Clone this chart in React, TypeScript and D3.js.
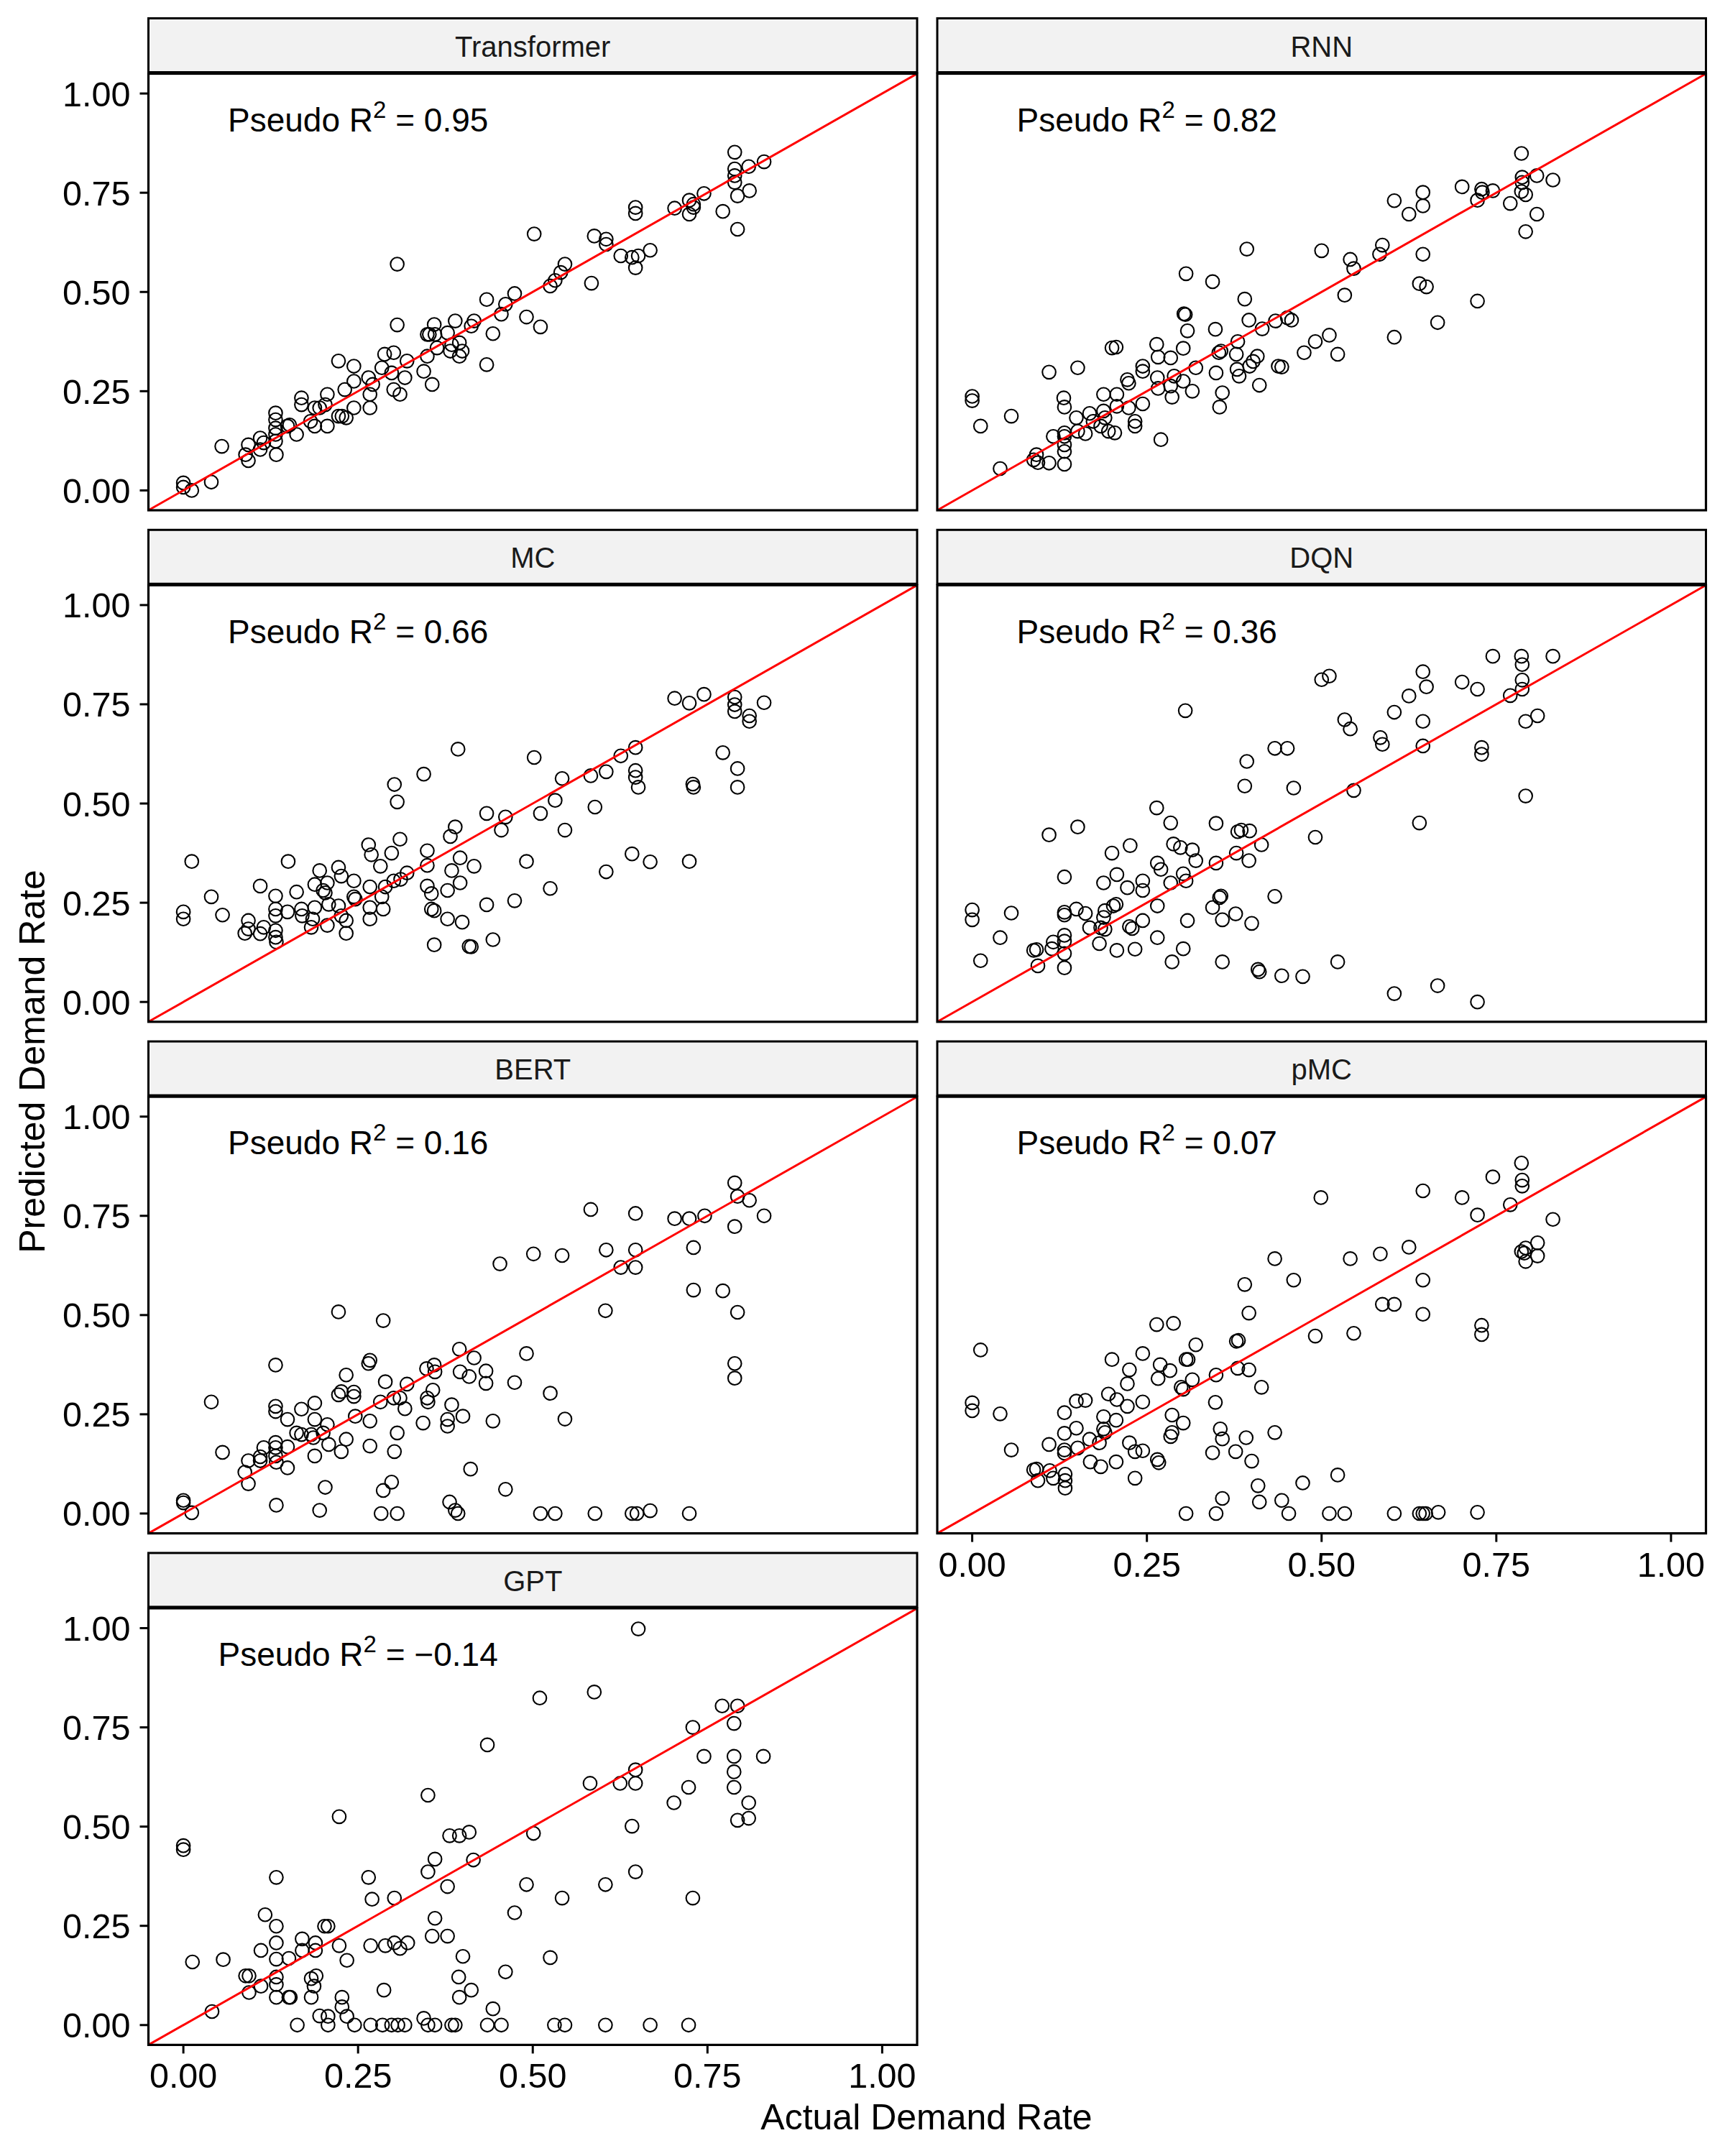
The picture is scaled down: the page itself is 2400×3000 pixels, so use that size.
import * as d3 from "d3";

type Pt = [number, number];

// facet order (row by row, two columns)
const models = ["Transformer", "RNN", "MC", "DQN", "BERT", "pMC", "GPT"];
const r2Labels = ["0.95", "0.82", "0.66", "0.36", "0.16", "0.07", "\u22120.14"];
const tickValues = [0, 0.25, 0.5, 0.75, 1];
const tickLabels = ["0.00", "0.25", "0.50", "0.75", "1.00"];

const transformerPts: Pt[] = [
  [0, 0.019], [0, 0.008], [0.012, 0], [0.04, 0.021], [0.055, 0.111], [0.089, 0.09], [0.093, 0.115], [0.093, 0.075],
  [0.11, 0.103], [0.11, 0.132], [0.115, 0.12], [0.132, 0.195], [0.132, 0.178], [0.132, 0.157], [0.132, 0.141],
  [0.132, 0.124], [0.133, 0.09], [0.149, 0.162], [0.152, 0.165], [0.162, 0.141], [0.169, 0.233], [0.169, 0.216],
  [0.182, 0.174], [0.188, 0.208], [0.188, 0.162], [0.195, 0.208], [0.203, 0.216], [0.206, 0.242], [0.206, 0.162],
  [0.222, 0.326], [0.222, 0.187], [0.227, 0.187], [0.231, 0.254], [0.233, 0.183], [0.244, 0.313], [0.244, 0.275],
  [0.244, 0.208], [0.265, 0.284], [0.267, 0.242], [0.267, 0.208], [0.271, 0.267], [0.284, 0.309], [0.288, 0.343],
  [0.298, 0.296], [0.301, 0.347], [0.301, 0.254], [0.306, 0.57], [0.306, 0.417], [0.31, 0.242], [0.317, 0.284],
  [0.32, 0.326], [0.344, 0.3], [0.349, 0.338], [0.349, 0.393], [0.352, 0.393], [0.356, 0.267], [0.359, 0.418],
  [0.36, 0.393], [0.363, 0.359], [0.378, 0.397], [0.382, 0.351], [0.384, 0.367], [0.389, 0.427], [0.395, 0.372],
  [0.395, 0.338], [0.399, 0.351], [0.412, 0.414], [0.416, 0.427], [0.434, 0.481], [0.434, 0.317], [0.443, 0.395],
  [0.455, 0.444], [0.461, 0.469], [0.474, 0.496], [0.491, 0.437], [0.511, 0.412], [0.502, 0.646], [0.525, 0.515],
  [0.532, 0.529], [0.54, 0.549], [0.546, 0.57], [0.584, 0.522], [0.588, 0.641], [0.605, 0.633], [0.605, 0.62],
  [0.626, 0.591], [0.642, 0.587], [0.647, 0.561], [0.647, 0.713], [0.647, 0.698], [0.651, 0.591], [0.668, 0.605],
  [0.703, 0.711], [0.724, 0.731], [0.724, 0.696], [0.73, 0.721], [0.73, 0.713], [0.745, 0.748], [0.772, 0.703],
  [0.789, 0.852], [0.789, 0.81], [0.789, 0.793], [0.789, 0.776], [0.793, 0.742], [0.793, 0.658], [0.809, 0.816],
  [0.81, 0.755], [0.831, 0.828],
];

const rnnPts: Pt[] = [
  [0, 0.237], [0, 0.226], [0.012, 0.162], [0.04, 0.055], [0.056, 0.187], [0.088, 0.077], [0.092, 0.09], [0.094, 0.07],
  [0.11, 0.069], [0.11, 0.298], [0.116, 0.136], [0.131, 0.233], [0.132, 0.21], [0.132, 0.145], [0.132, 0.115],
  [0.132, 0.098], [0.132, 0.066], [0.132, 0.136], [0.149, 0.183], [0.151, 0.309], [0.151, 0.149], [0.162, 0.143],
  [0.168, 0.194], [0.173, 0.174], [0.184, 0.162], [0.188, 0.2], [0.188, 0.242], [0.19, 0.183], [0.195, 0.149],
  [0.2, 0.359], [0.206, 0.361], [0.204, 0.145], [0.207, 0.242], [0.207, 0.212], [0.222, 0.279], [0.224, 0.27],
  [0.224, 0.208], [0.233, 0.174], [0.233, 0.162], [0.244, 0.313], [0.244, 0.3], [0.244, 0.218], [0.264, 0.368],
  [0.265, 0.284], [0.266, 0.336], [0.266, 0.257], [0.27, 0.128], [0.284, 0.334], [0.284, 0.263], [0.286, 0.235],
  [0.289, 0.288], [0.302, 0.358], [0.302, 0.275], [0.303, 0.445], [0.306, 0.546], [0.305, 0.443], [0.308, 0.402],
  [0.315, 0.25], [0.32, 0.309], [0.344, 0.526], [0.348, 0.406], [0.349, 0.296], [0.353, 0.347], [0.356, 0.351],
  [0.354, 0.21], [0.358, 0.246], [0.378, 0.343], [0.379, 0.305], [0.382, 0.288], [0.38, 0.375], [0.39, 0.482],
  [0.393, 0.608], [0.396, 0.429], [0.397, 0.313], [0.402, 0.325], [0.408, 0.338], [0.411, 0.265], [0.415, 0.407],
  [0.434, 0.427], [0.438, 0.313], [0.443, 0.311], [0.451, 0.435], [0.457, 0.429], [0.475, 0.347], [0.491, 0.375],
  [0.5, 0.604], [0.511, 0.391], [0.523, 0.343], [0.533, 0.492], [0.541, 0.582], [0.546, 0.559], [0.583, 0.595],
  [0.587, 0.618], [0.604, 0.73], [0.604, 0.386], [0.625, 0.696], [0.64, 0.521], [0.645, 0.751], [0.645, 0.717],
  [0.645, 0.595], [0.65, 0.513], [0.666, 0.423], [0.701, 0.765], [0.723, 0.731], [0.723, 0.477], [0.729, 0.759],
  [0.73, 0.751], [0.745, 0.755], [0.77, 0.723], [0.786, 0.849], [0.787, 0.789], [0.787, 0.776], [0.786, 0.753],
  [0.792, 0.745], [0.792, 0.652], [0.808, 0.696], [0.808, 0.793], [0.831, 0.782],
];

const mcPts: Pt[] = [
  [0, 0.227], [0, 0.209], [0.012, 0.354], [0.04, 0.265], [0.056, 0.219], [0.088, 0.173], [0.093, 0.205], [0.093, 0.184],
  [0.11, 0.292], [0.11, 0.172], [0.115, 0.188], [0.132, 0.267], [0.132, 0.234], [0.132, 0.217], [0.132, 0.18],
  [0.132, 0.163], [0.133, 0.151], [0.149, 0.227], [0.15, 0.354], [0.162, 0.277], [0.169, 0.234], [0.17, 0.217],
  [0.183, 0.188], [0.185, 0.209], [0.188, 0.296], [0.188, 0.238], [0.195, 0.331], [0.2, 0.281], [0.203, 0.275],
  [0.206, 0.3], [0.206, 0.193], [0.208, 0.246], [0.222, 0.339], [0.222, 0.242], [0.226, 0.317], [0.226, 0.217],
  [0.233, 0.205], [0.233, 0.173], [0.244, 0.305], [0.244, 0.265], [0.246, 0.259], [0.265, 0.396], [0.267, 0.29],
  [0.267, 0.238], [0.267, 0.209], [0.269, 0.371], [0.282, 0.342], [0.284, 0.265], [0.286, 0.234], [0.289, 0.29],
  [0.298, 0.375], [0.302, 0.548], [0.306, 0.504], [0.31, 0.41], [0.301, 0.305], [0.311, 0.309], [0.32, 0.325],
  [0.344, 0.574], [0.349, 0.381], [0.349, 0.344], [0.349, 0.292], [0.355, 0.273], [0.355, 0.234], [0.359, 0.23],
  [0.359, 0.144], [0.378, 0.281], [0.378, 0.209], [0.382, 0.417], [0.384, 0.331], [0.389, 0.441], [0.393, 0.637],
  [0.396, 0.363], [0.396, 0.3], [0.399, 0.201], [0.409, 0.14], [0.412, 0.139], [0.416, 0.342], [0.434, 0.475],
  [0.434, 0.245], [0.443, 0.157], [0.455, 0.433], [0.461, 0.466], [0.474, 0.255], [0.491, 0.354], [0.502, 0.616],
  [0.511, 0.475], [0.525, 0.286], [0.532, 0.508], [0.542, 0.563], [0.546, 0.433], [0.583, 0.57], [0.589, 0.491],
  [0.605, 0.58], [0.605, 0.328], [0.626, 0.62], [0.642, 0.373], [0.647, 0.641], [0.647, 0.583], [0.647, 0.566],
  [0.651, 0.541], [0.668, 0.353], [0.703, 0.765], [0.724, 0.753], [0.724, 0.354], [0.729, 0.549], [0.73, 0.541],
  [0.745, 0.775], [0.772, 0.628], [0.789, 0.768], [0.789, 0.749], [0.789, 0.732], [0.793, 0.588], [0.793, 0.541],
  [0.81, 0.721], [0.81, 0.707], [0.831, 0.754],
];

const dqnPts: Pt[] = [
  [0, 0.232], [0, 0.207], [0.012, 0.104], [0.04, 0.162], [0.056, 0.224], [0.088, 0.13], [0.092, 0.132], [0.094, 0.091],
  [0.11, 0.421], [0.114, 0.134], [0.116, 0.151], [0.132, 0.315], [0.132, 0.226], [0.132, 0.219], [0.132, 0.168],
  [0.132, 0.153], [0.132, 0.122], [0.132, 0.086], [0.149, 0.234], [0.151, 0.441], [0.162, 0.223], [0.168, 0.187],
  [0.182, 0.147], [0.184, 0.187], [0.188, 0.3], [0.188, 0.213], [0.19, 0.23], [0.19, 0.183], [0.2, 0.375],
  [0.202, 0.242], [0.206, 0.246], [0.207, 0.321], [0.207, 0.13], [0.222, 0.288], [0.225, 0.19], [0.226, 0.394],
  [0.229, 0.185], [0.233, 0.133], [0.244, 0.305], [0.244, 0.281], [0.244, 0.205], [0.264, 0.489], [0.265, 0.35],
  [0.265, 0.242], [0.265, 0.162], [0.27, 0.334], [0.284, 0.451], [0.284, 0.3], [0.286, 0.101], [0.288, 0.398],
  [0.298, 0.389], [0.302, 0.323], [0.306, 0.305], [0.305, 0.734], [0.302, 0.134], [0.308, 0.205], [0.315, 0.383],
  [0.32, 0.356], [0.344, 0.238], [0.349, 0.45], [0.349, 0.35], [0.354, 0.263], [0.358, 0.207], [0.356, 0.267],
  [0.358, 0.101], [0.377, 0.222], [0.378, 0.375], [0.38, 0.429], [0.385, 0.433], [0.39, 0.544], [0.393, 0.606],
  [0.396, 0.356], [0.397, 0.431], [0.4, 0.198], [0.409, 0.082], [0.411, 0.076], [0.414, 0.396], [0.433, 0.639],
  [0.433, 0.266], [0.443, 0.066], [0.451, 0.639], [0.46, 0.539], [0.473, 0.064], [0.491, 0.415], [0.5, 0.812],
  [0.511, 0.821], [0.523, 0.101], [0.533, 0.711], [0.541, 0.688], [0.546, 0.533], [0.584, 0.666], [0.587, 0.649],
  [0.604, 0.73], [0.604, 0.021], [0.625, 0.771], [0.64, 0.451], [0.645, 0.832], [0.645, 0.707], [0.645, 0.645],
  [0.65, 0.794], [0.666, 0.041], [0.701, 0.806], [0.723, 0.788], [0.723, 0], [0.729, 0.641], [0.729, 0.624],
  [0.745, 0.871], [0.77, 0.772], [0.786, 0.871], [0.787, 0.85], [0.787, 0.811], [0.787, 0.788], [0.792, 0.707],
  [0.792, 0.519], [0.809, 0.721], [0.831, 0.871],
];

const bertPts: Pt[] = [
  [0, 0.033], [0, 0.027], [0.012, 0.002], [0.04, 0.281], [0.056, 0.154], [0.088, 0.104], [0.093, 0.133], [0.093, 0.075],
  [0.11, 0.143], [0.11, 0.133], [0.115, 0.166], [0.132, 0.374], [0.132, 0.27], [0.132, 0.257], [0.132, 0.179],
  [0.132, 0.166], [0.132, 0.145], [0.133, 0.129], [0.133, 0.021], [0.149, 0.237], [0.149, 0.168], [0.149, 0.115],
  [0.162, 0.203], [0.169, 0.263], [0.169, 0.199], [0.183, 0.199], [0.186, 0.191], [0.188, 0.278], [0.188, 0.237],
  [0.188, 0.145], [0.195, 0.008], [0.2, 0.203], [0.203, 0.066], [0.206, 0.224], [0.208, 0.174], [0.222, 0.508],
  [0.222, 0.299], [0.226, 0.307], [0.226, 0.156], [0.233, 0.349], [0.233, 0.187], [0.244, 0.306], [0.244, 0.295],
  [0.246, 0.245], [0.265, 0.378], [0.267, 0.386], [0.267, 0.233], [0.267, 0.17], [0.282, 0.281], [0.283, 0],
  [0.286, 0.486], [0.286, 0.058], [0.289, 0.332], [0.298, 0.079], [0.302, 0.156], [0.301, 0.291], [0.306, 0.203],
  [0.306, 0], [0.31, 0.291], [0.317, 0.264], [0.32, 0.326], [0.343, 0.228], [0.348, 0.365], [0.349, 0.291],
  [0.35, 0.281], [0.357, 0.311], [0.359, 0.374], [0.36, 0.357], [0.378, 0.237], [0.378, 0.22], [0.381, 0.029],
  [0.384, 0.274], [0.389, 0.008], [0.393, 0], [0.395, 0.414], [0.396, 0.357], [0.4, 0.245], [0.409, 0.345],
  [0.411, 0.112], [0.416, 0.392], [0.433, 0.359], [0.433, 0.328], [0.443, 0.233], [0.461, 0.061], [0.474, 0.33],
  [0.491, 0.403], [0.501, 0.654], [0.511, 0], [0.525, 0.303], [0.532, 0], [0.542, 0.65], [0.546, 0.238],
  [0.453, 0.629], [0.583, 0.766], [0.589, 0], [0.604, 0.511], [0.605, 0.664], [0.626, 0.62], [0.642, 0], [0.649, 0],
  [0.647, 0.756], [0.647, 0.664], [0.647, 0.62], [0.668, 0.007], [0.703, 0.743], [0.724, 0.743], [0.724, 0],
  [0.73, 0.67], [0.73, 0.563], [0.746, 0.75], [0.772, 0.561], [0.789, 0.833], [0.789, 0.723], [0.789, 0.378],
  [0.789, 0.341], [0.793, 0.799], [0.793, 0.507], [0.81, 0.789], [0.831, 0.75],
];

const pmcPts: Pt[] = [
  [0, 0.279], [0, 0.259], [0.012, 0.412], [0.04, 0.251], [0.056, 0.16], [0.088, 0.11], [0.092, 0.112], [0.094, 0.083],
  [0.11, 0.174], [0.111, 0.108], [0.116, 0.089], [0.132, 0.254], [0.132, 0.202], [0.132, 0.16], [0.132, 0.152],
  [0.133, 0.099], [0.133, 0.083], [0.133, 0.064], [0.149, 0.283], [0.149, 0.215], [0.151, 0.165], [0.162, 0.285],
  [0.168, 0.187], [0.169, 0.13], [0.182, 0.178], [0.184, 0.118], [0.188, 0.244], [0.188, 0.213], [0.19, 0.204],
  [0.195, 0.301], [0.2, 0.388], [0.206, 0.235], [0.206, 0.13], [0.207, 0.287], [0.222, 0.327], [0.222, 0.27],
  [0.225, 0.362], [0.225, 0.178], [0.233, 0.156], [0.233, 0.089], [0.244, 0.403], [0.244, 0.281], [0.244, 0.158],
  [0.264, 0.476], [0.265, 0.136], [0.266, 0.34], [0.267, 0.128], [0.269, 0.375], [0.283, 0.36], [0.286, 0.248],
  [0.284, 0.194], [0.286, 0.204], [0.288, 0.479], [0.299, 0.318], [0.302, 0.228], [0.302, 0.313], [0.306, 0.388],
  [0.309, 0.388], [0.306, 0], [0.315, 0.337], [0.32, 0.425], [0.344, 0.153], [0.348, 0.28], [0.349, 0.349],
  [0.349, 0], [0.355, 0.213], [0.358, 0.188], [0.358, 0.038], [0.377, 0.156], [0.378, 0.434], [0.381, 0.436],
  [0.38, 0.366], [0.39, 0.577], [0.392, 0.191], [0.396, 0.505], [0.396, 0.362], [0.4, 0.132], [0.409, 0.07],
  [0.411, 0.029], [0.414, 0.318], [0.433, 0.642], [0.433, 0.204], [0.443, 0.033], [0.453, 0], [0.46, 0.588],
  [0.473, 0.077], [0.491, 0.447], [0.499, 0.796], [0.511, 0], [0.523, 0.097], [0.533, 0], [0.541, 0.642],
  [0.546, 0.454], [0.584, 0.654], [0.587, 0.527], [0.604, 0.527], [0.604, 0], [0.625, 0.671], [0.64, 0], [0.645, 0],
  [0.649, 0], [0.667, 0.003], [0.645, 0.813], [0.645, 0.588], [0.645, 0.502], [0.701, 0.796], [0.723, 0.752],
  [0.723, 0.003], [0.729, 0.474], [0.729, 0.451], [0.745, 0.848], [0.77, 0.778], [0.786, 0.883], [0.787, 0.84],
  [0.787, 0.825], [0.786, 0.66], [0.79, 0.656], [0.792, 0.669], [0.792, 0.635], [0.809, 0.682], [0.809, 0.649],
  [0.831, 0.741],
];

const gptPts: Pt[] = [
  [0, 0.452], [0, 0.442], [0.013, 0.159], [0.041, 0.034], [0.057, 0.165], [0.089, 0.124], [0.094, 0.124], [0.094, 0.082],
  [0.111, 0.188], [0.111, 0.098], [0.117, 0.278], [0.133, 0.372], [0.133, 0.249], [0.133, 0.207], [0.133, 0.166],
  [0.133, 0.121], [0.133, 0.102], [0.133, 0.07], [0.151, 0.168], [0.151, 0.07], [0.153, 0.07], [0.163, 0],
  [0.17, 0.217], [0.17, 0.188], [0.183, 0.117], [0.183, 0.07], [0.187, 0.098], [0.189, 0.207], [0.189, 0.188],
  [0.19, 0.124], [0.195, 0.023], [0.202, 0.249], [0.207, 0.249], [0.207, 0.022], [0.207, 0], [0.223, 0.525],
  [0.223, 0.2], [0.227, 0.07], [0.227, 0.046], [0.234, 0.163], [0.234, 0.022], [0.245, 0], [0.265, 0.372],
  [0.268, 0.2], [0.268, 0], [0.27, 0.317], [0.285, 0], [0.287, 0.088], [0.289, 0.2], [0.298, 0], [0.302, 0.32],
  [0.302, 0.207], [0.307, 0], [0.31, 0.193], [0.317, 0], [0.321, 0.207], [0.344, 0.017], [0.35, 0.579],
  [0.35, 0.386], [0.35, 0], [0.356, 0.224], [0.36, 0.418], [0.36, 0.269], [0.36, 0], [0.378, 0.349], [0.378, 0.224],
  [0.381, 0.477], [0.384, 0], [0.389, 0], [0.394, 0.121], [0.395, 0.07], [0.395, 0.477], [0.4, 0.173],
  [0.409, 0.486], [0.412, 0.088], [0.415, 0.416], [0.435, 0.706], [0.435, 0], [0.443, 0.041], [0.455, 0],
  [0.461, 0.134], [0.474, 0.283], [0.491, 0.354], [0.501, 0.483], [0.51, 0.824], [0.525, 0.17], [0.531, 0],
  [0.542, 0.32], [0.546, 0], [0.582, 0.609], [0.588, 0.839], [0.604, 0.354], [0.604, 0], [0.625, 0.609],
  [0.642, 0.501], [0.647, 0.643], [0.647, 0.609], [0.647, 0.386], [0.651, 0.998], [0.668, 0], [0.702, 0.56],
  [0.723, 0.599], [0.723, 0], [0.729, 0.75], [0.729, 0.32], [0.745, 0.677], [0.771, 0.804], [0.793, 0.804],
  [0.788, 0.76], [0.788, 0.677], [0.788, 0.638], [0.788, 0.599], [0.793, 0.516], [0.809, 0.56], [0.809, 0.521],
  [0.83, 0.677],
];

const seriesByModel: Pt[][] = [transformerPts, rnnPts, mcPts, dqnPts, bertPts, pmcPts, gptPts];

// layout (px)
const W = 2400;
const H = 3000;
const colLeft = [206.5, 1304];
const panelW = 1069.5;
const rowPitch = 711.8;
const firstStripTop = 25.5;
const stripH = 75;
const panelGap = 77; // strip top -> panel top
const panelH = 607.5;
const domain: [number, number] = [-0.05, 1.05];
const font = "'Liberation Sans', Arial, Helvetica, sans-serif";

const Panel = ({ idx }: { idx: number }) => {
  const row = Math.floor(idx / 2);
  const col = idx % 2;
  const left = colLeft[col];
  const stripTop = firstStripTop + row * rowPitch;
  const top = stripTop + panelGap;
  const bottom = top + panelH;

  const x = d3.scaleLinear().domain(domain).range([left, left + panelW]);
  const y = d3.scaleLinear().domain(domain).range([bottom, top]);
  const diag = d3.line<number>().x((d) => x(d)).y((d) => y(d))(domain) ?? "";

  const showY = col === 0;
  const showX = idx === 5 || idx === 6;

  return (
    <g>
      <rect x={left} y={stripTop} width={panelW} height={stripH} fill="#F2F2F2" stroke="#000" strokeWidth={3} />
      <text
        x={left + panelW / 2}
        y={stripTop + 53}
        textAnchor="middle"
        fontSize={40}
        fill="#1A1A1A"
      >
        {models[idx]}
      </text>

      {seriesByModel[idx].map((d, i) => (
        <circle key={i} cx={x(d[0])} cy={y(d[1])} r={9.3} fill="none" stroke="#000" strokeWidth={2.1} />
      ))}

      <path d={diag} fill="none" stroke="#FF0000" strokeWidth={3} />

      <text x={x(0.25)} y={y(0.95) + 25} textAnchor="middle" fontSize={46} fill="#000" style={{ whiteSpace: "pre" }}>
        Pseudo R
        <tspan dy={-19} fontSize={33}>2</tspan>
        <tspan dy={19} fontSize={46}>{` = ${r2Labels[idx]}`}</tspan>
      </text>

      <rect x={left} y={top} width={panelW} height={panelH} fill="none" stroke="#000" strokeWidth={3.2} />

      {showY &&
        tickValues.map((t, i) => (
          <g key={`y${i}`}>
            <line x1={left - 12} x2={left} y1={y(t)} y2={y(t)} stroke="#000" strokeWidth={3} />
            <text x={left - 25} y={y(t)} dy="0.36em" textAnchor="end" fontSize={48.5} fill="#000">
              {tickLabels[i]}
            </text>
          </g>
        ))}

      {showX &&
        tickValues.map((t, i) => (
          <g key={`x${i}`}>
            <line x1={x(t)} x2={x(t)} y1={bottom} y2={bottom + 12} stroke="#000" strokeWidth={3} />
            <text x={x(t)} y={bottom + 60} textAnchor="middle" fontSize={48.5} fill="#000">
              {tickLabels[i]}
            </text>
          </g>
        ))}
    </g>
  );
};

const App = () => {
  return (
    <svg
      width={W}
      height={H}
      viewBox={`0 0 ${W} ${H}`}
      style={{ position: "absolute", left: 0, top: 0, background: "#fff" }}
      fontFamily={font}
    >
      <rect width={W} height={H} fill="#fff" />
      {models.map((m, i) => (
        <Panel key={m} idx={i} />
      ))}
      <text x={1289} y={2963} textAnchor="middle" fontSize={50} fill="#000">
        Actual Demand Rate
      </text>
      <text transform="translate(62,1477) rotate(-90)" textAnchor="middle" fontSize={50} fill="#000">
        Predicted Demand Rate
      </text>
    </svg>
  );
};

export default App;
